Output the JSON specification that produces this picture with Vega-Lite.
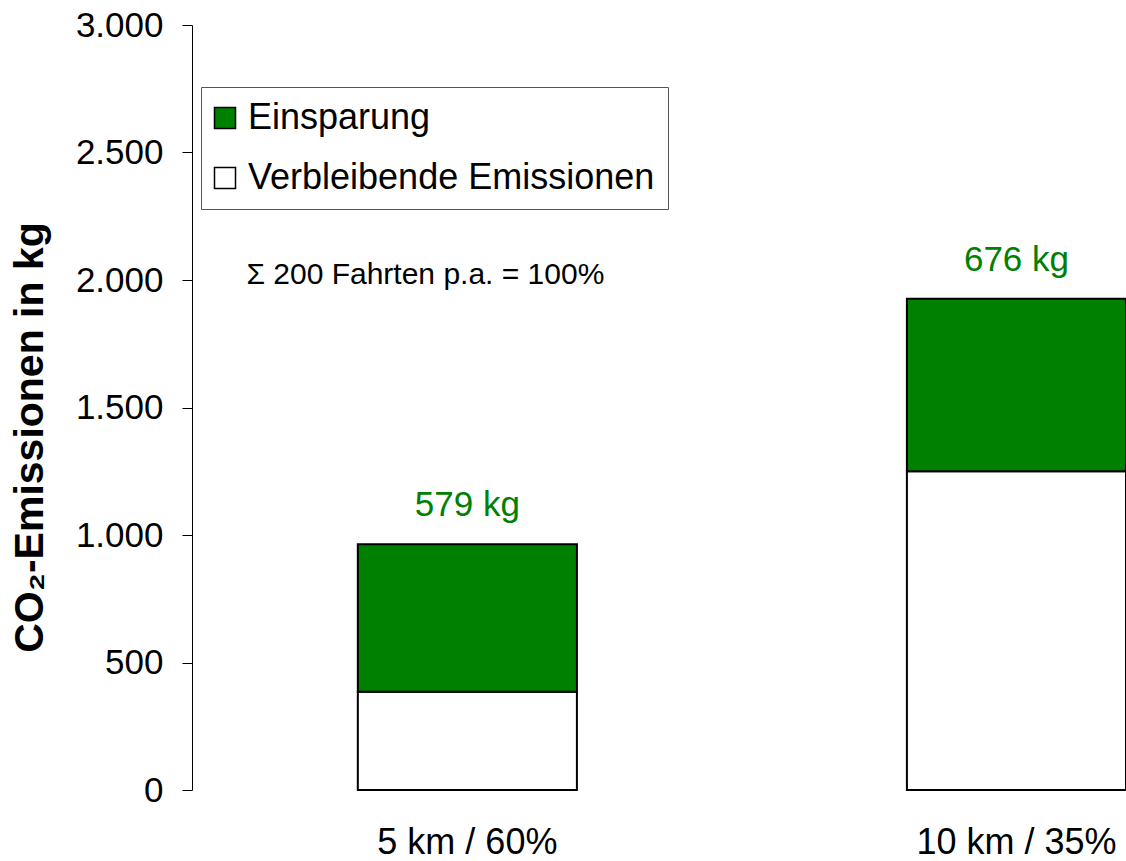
{
  "$schema": "https://vega.github.io/schema/vega-lite/v6.json",
  "width": 934,
  "height": 765,
  "autosize": {"type": "none"},
  "padding": {"left": 192, "top": 25, "right": 0, "bottom": 71},
  "background": "white",
  "config": {
    "view": {"stroke": null},
    "font": "Liberation Sans",
    "axis": {"grid": false}
  },
  "datasets": {
    "emissionen": [
      {"kategorie": "5 km / 60%", "typ": "Verbleibende Emissionen", "wert": 385, "beschriftung": ""},
      {"kategorie": "5 km / 60%", "typ": "Einsparung", "wert": 579, "beschriftung": "579 kg"},
      {"kategorie": "10 km / 35%", "typ": "Verbleibende Emissionen", "wert": 1250, "beschriftung": ""},
      {"kategorie": "10 km / 35%", "typ": "Einsparung", "wert": 676, "beschriftung": "676 kg"}
    ],
    "notiz": [
      {"kategorie": "5 km / 60%", "wert": 1985, "text": "Σ 200 Fahrten p.a. = 100%"}
    ]
  },
  "layer": [
    {
      "data": {"name": "emissionen"},
      "mark": {"type": "bar", "stroke": "black", "strokeWidth": 2},
      "encoding": {
        "x": {
          "field": "kategorie",
          "type": "nominal",
          "scale": {"domain": ["5 km / 60%", "10 km / 35%"], "paddingInner": 0.601, "paddingOuter": 0.151, "align": 1},
          "axis": {
            "title": null,
            "domain": false,
            "ticks": false,
            "tickSize": 0,
            "labelAngle": 0,
            "labelFontSize": 36,
            "labelColor": "black",
            "labelBaseline": "alphabetic",
            "labelPadding": 63,
            "labelLimit": 0
          }
        },
        "y": {
          "field": "wert",
          "type": "quantitative",
          "stack": "zero",
          "scale": {"domain": [0, 3000], "nice": false},
          "axis": {
            "values": [0, 500, 1000, 1500, 2000, 2500, 3000],
            "labelExpr": "replace(format(datum.value, ','), ',', '.')",
            "tickSize": 10,
            "tickColor": "black",
            "tickWidth": 1,
            "domainColor": "black",
            "domainWidth": 1,
            "labelFontSize": 35,
            "labelColor": "black",
            "labelPadding": 19,
            "title": "CO₂-Emissionen in kg",
            "titleFontSize": 41,
            "titleFontWeight": "bold",
            "titleColor": "black",
            "titleBaseline": "alphabetic",
            "titleX": -150,
            "titleY": 412
          }
        },
        "color": {
          "field": "typ",
          "type": "nominal",
          "scale": {"domain": ["Einsparung", "Verbleibende Emissionen"], "range": ["#008000", "#ffffff"]},
          "legend": {
            "orient": "none",
            "legendX": 9,
            "legendY": 62,
            "title": null,
            "padding": 13,
            "strokeColor": "#555555",
            "fillColor": "white",
            "symbolType": "square",
            "symbolSize": 441,
            "symbolStrokeColor": "black",
            "symbolStrokeWidth": 1.5,
            "symbolOpacity": 1,
            "symbolOffset": -7,
            "labelFontSize": 36,
            "labelColor": "black",
            "labelOffset": 5,
            "rowPadding": 24,
            "labelLimit": 0
          }
        },
        "order": {"field": "typ", "sort": "descending"}
      }
    },
    {
      "data": {"name": "emissionen"},
      "transform": [
        {"joinaggregate": [{"op": "sum", "field": "wert", "as": "gesamt"}], "groupby": ["kategorie"]},
        {"filter": "datum.typ == 'Einsparung'"}
      ],
      "mark": {"type": "text", "fontSize": 35, "color": "#008000", "baseline": "alphabetic", "align": "center", "dy": -28},
      "encoding": {
        "x": {"field": "kategorie", "type": "nominal"},
        "y": {"field": "gesamt", "type": "quantitative"},
        "text": {"field": "beschriftung", "type": "nominal"}
      }
    },
    {
      "data": {"name": "notiz"},
      "mark": {"type": "text", "fontSize": 30, "color": "black", "baseline": "alphabetic", "align": "center", "dx": -42},
      "encoding": {
        "x": {"field": "kategorie", "type": "nominal"},
        "y": {"field": "wert", "type": "quantitative"},
        "text": {"field": "text", "type": "nominal"}
      }
    }
  ]
}
